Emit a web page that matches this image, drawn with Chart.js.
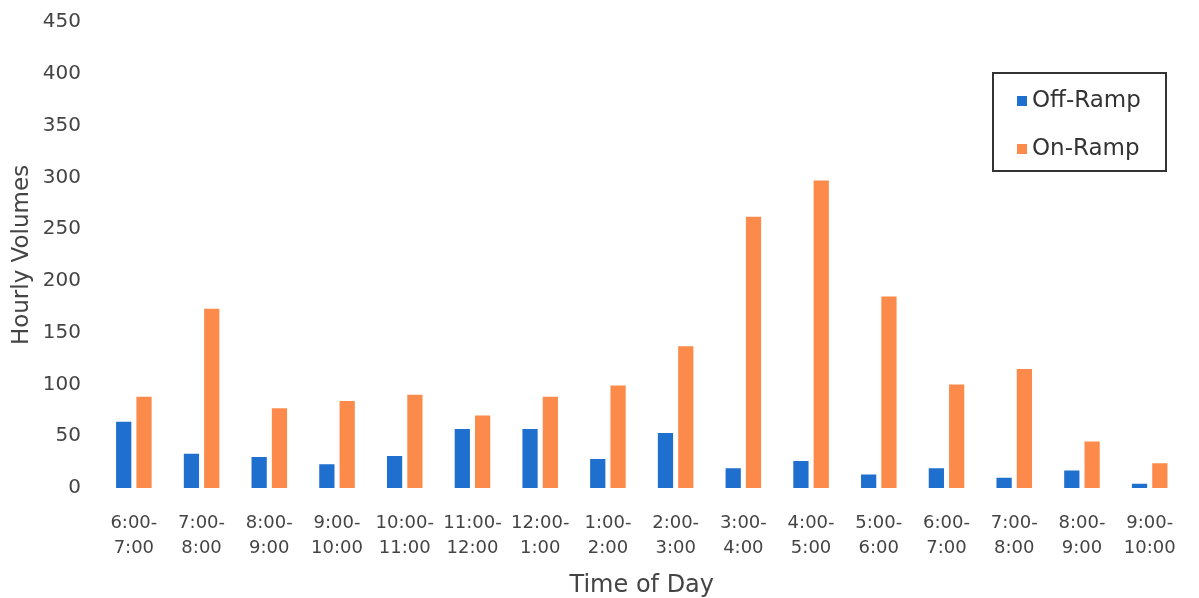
<!DOCTYPE html>
<html>
<head>
<meta charset="utf-8">
<script src="https://cdn.jsdelivr.net/npm/chart.js@4"></script>
<style>
  html, body { margin: 0; padding: 0; background: #fff; }
  #wrap { width: 1199px; height: 598px; }
</style>
</head>
<body>
<div id="wrap"><canvas id="chart"></canvas></div>
<script>
// time slots (two-line labels)
var timeSlots = [
  ["6:00-", "7:00"], ["7:00-", "8:00"], ["8:00-", "9:00"], ["9:00-", "10:00"],
  ["10:00-", "11:00"], ["11:00-", "12:00"], ["12:00-", "1:00"], ["1:00-", "2:00"],
  ["2:00-", "3:00"], ["3:00-", "4:00"], ["4:00-", "5:00"], ["5:00-", "6:00"],
  ["6:00-", "7:00"], ["7:00-", "8:00"], ["8:00-", "9:00"], ["9:00-", "10:00"]
];
var offRamp = [64, 33, 30, 23, 31, 57, 57, 28, 53, 19, 26, 13, 19, 10, 17, 4];
var onRamp  = [88, 173, 77, 84, 90, 70, 88, 99, 137, 262, 297, 185, 100, 115, 45, 24];
var yTicks = [0, 50, 100, 150, 200, 250, 300, 350, 400, 450];

var txt = '#444';
var fam = '"DejaVu Sans", sans-serif';

// legend drawn in a box at the top right
var boxLegend = {
  id: 'boxLegend',
  afterDraw: function(chart) {
    var c = chart.ctx;
    var x = 993, y = 73, w = 173, h = 98;
    c.save();
    c.strokeStyle = '#333';
    c.lineWidth = 2;
    c.strokeRect(x, y, w, h);
    c.font = '23px ' + fam;
    c.textBaseline = 'middle';
    chart.data.datasets.forEach(function(ds, i) {
      var ly = y + 28 + i * 48;
      c.fillStyle = ds.backgroundColor;
      c.fillRect(x + 24, ly - 5, 10, 10);
      c.fillStyle = '#333';
      c.fillText(ds.label, x + 39, ly);
    });
    c.restore();
  }
};

new Chart(document.getElementById('chart'), {
  type: 'bar',
  data: {
    labels: timeSlots,
    datasets: [
      { label: 'Off-Ramp', data: offRamp, backgroundColor: '#1f6fce' },
      { label: 'On-Ramp', data: onRamp, backgroundColor: '#fb8a4b' }
    ]
  },
  options: {
    responsive: true,
    maintainAspectRatio: false,
    animation: false,
    layout: { padding: { left: 4, right: 12, top: 0, bottom: 0 } },
    datasets: { bar: { categoryPercentage: 0.6, barPercentage: 0.75 } },
    plugins: { legend: { display: false }, tooltip: { enabled: false } },
    scales: {
      x: {
        afterFit: function(axis) { axis.height = 110; },
        grid: { display: false, drawTicks: false },
        border: { display: false },
        ticks: { color: txt, font: { size: 18, family: fam, lineHeight: 1.4 }, maxRotation: 0, autoSkip: false, padding: 23 },
        title: { display: true, text: 'Time of Day', color: txt, font: { size: 24, family: fam, lineHeight: 1 }, padding: { top: 2, bottom: 0 } }
      },
      y: {
        min: 0, max: 450,
        afterBuildTicks: function(axis) { axis.ticks = yTicks.map(function(v) { return { value: v }; }); },
        afterFit: function(axis) { axis.width = 96; axis.paddingTop = 22; axis.paddingBottom = 0; },
        grid: { display: false, drawTicks: false },
        border: { display: false },
        ticks: { color: txt, font: { size: 20, family: fam }, padding: 19 },
        title: { display: true, text: 'Hourly Volumes', color: txt, font: { size: 23, family: fam }, padding: { top: 4, bottom: 4 } }
      }
    }
  },
  plugins: [boxLegend]
});
</script>
</body>
</html>
